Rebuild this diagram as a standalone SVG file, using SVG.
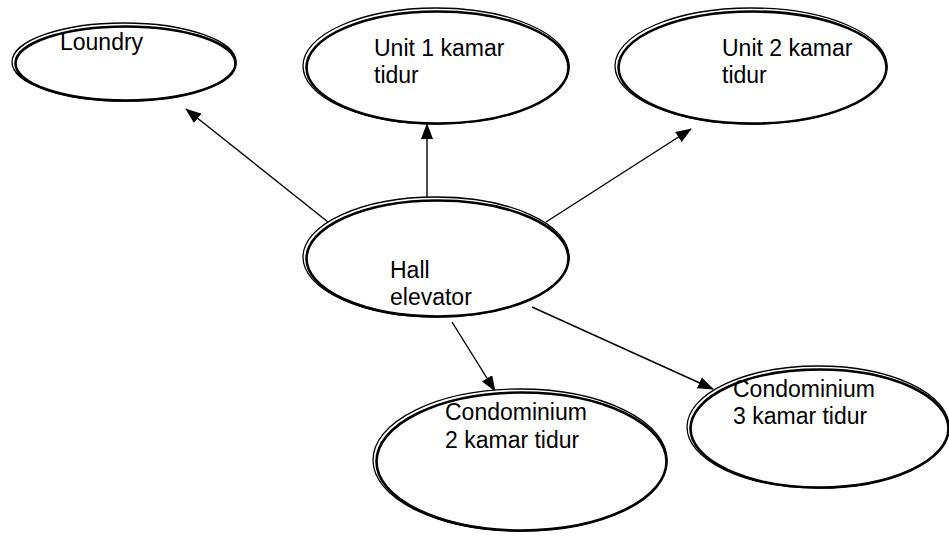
<svg xmlns="http://www.w3.org/2000/svg" width="949" height="537" viewBox="0 0 949 537">
<defs>
<style>
.o{fill:#fff;stroke:#000;stroke-width:1.3}
.i{fill:none;stroke:#000;stroke-width:2.6}
.t{font-family:"Liberation Sans",Arial,sans-serif;font-size:23px;fill:#000}
.c{stroke:#000;stroke-width:1.4;fill:none;marker-end:url(#ah)}
</style>
<marker id="ah" markerUnits="userSpaceOnUse" markerWidth="16" markerHeight="12" refX="15" refY="6" orient="auto">
<path d="M0,0 L16,6 L0,12 Z" fill="#000"/>
</marker>
</defs>
<rect width="949" height="537" fill="#fff"/>
<g id="connectors">
<line class="c" x1="328" y1="222" x2="186" y2="109"/>
<line class="c" x1="427" y1="197" x2="427" y2="124"/>
<line class="c" x1="546" y1="222" x2="691" y2="129"/>
<line class="c" x1="452" y1="322" x2="495" y2="391"/>
<line class="c" x1="532" y1="307" x2="713" y2="389"/>
</g>
<g id="loundry">
<ellipse class="o" cx="124" cy="62" rx="112" ry="39"/>
<ellipse class="i" cx="125.5" cy="63.5" rx="110" ry="37"/>
<text class="t" x="60" y="50">Loundry</text>
</g>
<g id="unit1">
<ellipse class="o" cx="436" cy="66" rx="133" ry="58"/>
<ellipse class="i" cx="437.5" cy="67.5" rx="131" ry="56"/>
<text class="t" x="374" y="56">Unit 1 kamar</text>
<text class="t" x="374" y="83">tidur</text>
</g>
<g id="unit2">
<ellipse class="o" cx="751" cy="66" rx="136" ry="58"/>
<ellipse class="i" cx="752.5" cy="67.5" rx="134" ry="56"/>
<text class="t" x="722" y="56">Unit 2 kamar</text>
<text class="t" x="722" y="83">tidur</text>
</g>
<g id="hall">
<ellipse class="o" cx="436" cy="257" rx="133" ry="60"/>
<ellipse class="i" cx="437.5" cy="258.5" rx="131" ry="58"/>
<text class="t" x="390" y="278">Hall</text>
<text class="t" x="390" y="305">elevator</text>
</g>
<g id="condo2">
<ellipse class="o" cx="520" cy="460" rx="147" ry="71"/>
<ellipse class="i" cx="521.5" cy="461.5" rx="145" ry="69"/>
<text class="t" x="445" y="420">Condominium</text>
<text class="t" x="445" y="448">2 kamar tidur</text>
</g>
<g id="condo3">
<ellipse class="o" cx="818" cy="427" rx="131" ry="61"/>
<ellipse class="i" cx="819.5" cy="428.5" rx="129" ry="59"/>
<text class="t" x="733" y="397">Condominium</text>
<text class="t" x="733" y="424">3 kamar tidur</text>
</g>
</svg>
